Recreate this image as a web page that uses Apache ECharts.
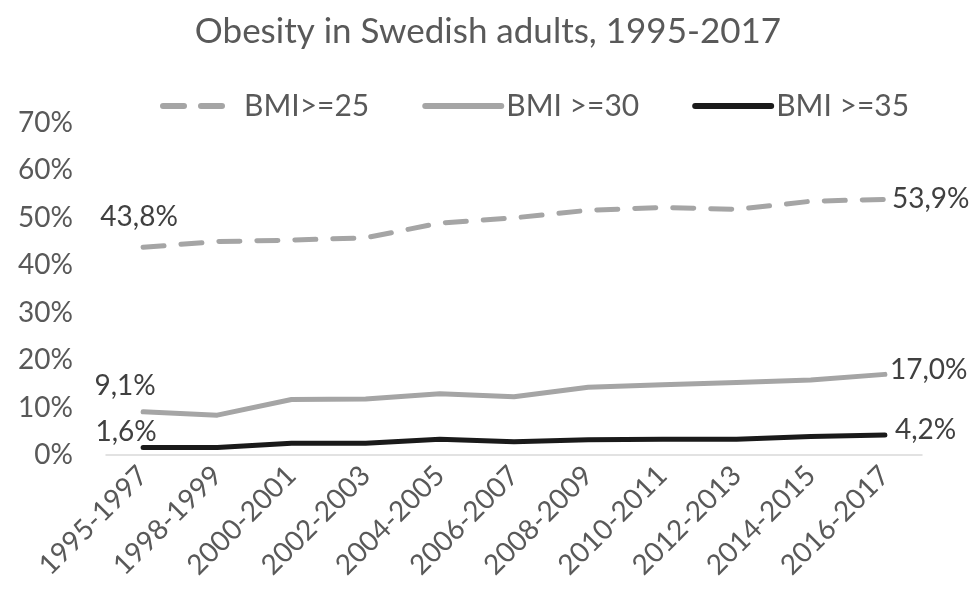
<!DOCTYPE html>
<html><head><meta charset="utf-8">
<script src="https://cdn.jsdelivr.net/npm/echarts@6/dist/echarts.min.js"></script>
<style>html,body{margin:0;padding:0;background:#fff}#c{width:976px;height:610px}</style>
</head><body><div id="c"></div>
<script>
const categories = ['1995-1997','1998-1999','2000-2001','2002-2003','2004-2005','2006-2007','2008-2009','2010-2011','2012-2013','2014-2015','2016-2017'];
const bmi25 = [43.8, 45.0, 45.3, 45.8, 48.9, 50.0, 51.6, 52.2, 51.8, 53.5, 53.9];
const bmi30 = [9.1, 8.4, 11.7, 11.8, 12.9, 12.3, 14.3, 14.8, 15.3, 15.8, 17.0];
const bmi35 = [1.6, 1.6, 2.5, 2.5, 3.3, 2.8, 3.2, 3.3, 3.3, 3.9, 4.2];
const yTicks = [0, 10, 20, 30, 40, 50, 60, 70];

const FONT = 'Lato';
const fmt = v => v.toFixed(1).replace('.', ',') + '%';
function mk(name, data, color, type, firstOff, lastOff) {
  const n = data.length;
  return {
    name, type: 'line', data: data.map((v, i) => {
      const d = { value: v };
      if (i === 0) d.label = { show: true, position: 'top', offset: firstOff };
      if (i === n - 1) d.label = { show: true, position: 'right', offset: lastOff };
      return d;
    }),
    symbol: 'circle', symbolSize: 0, showSymbol: true, smooth: false,
    lineStyle: { color, width: 5, type, cap: 'round', join: 'round' },
    itemStyle: { color },
    label: { show: false, fontFamily: FONT, fontSize: 28, color: '#404040', distance: 4,
      formatter: p => fmt(p.value) },
    emphasis: { disabled: true }
  };
}
const chart = echarts.init(document.getElementById('c'));
chart.setOption({
  animation: false,
  title: { text: 'Obesity in Swedish adults, 1995-2017', left: 'center', top: 9,
    textStyle: { fontFamily: FONT, fontSize: 35, fontWeight: 'normal', color: '#595959' } },
  legend: { top: 86, left: 155, itemWidth: 76, itemHeight: 14, itemGap: 53,
    itemStyle: { opacity: 0 }, lineStyle: { width: 6 },
    textStyle: { fontFamily: FONT, fontSize: 30, color: '#595959' },
    data: ['BMI>=25', 'BMI >=30', 'BMI >=35'] },
  grid: { left: 106, right: 54, top: 123, bottom: 155 },
  xAxis: { type: 'category', data: categories, boundaryGap: true,
    axisLine: { lineStyle: { color: '#d9d9d9', width: 1.5 } }, axisTick: { show: false },
    axisLabel: { rotate: 45, fontFamily: FONT, fontSize: 28, color: '#595959', margin: 16, interval: 0 } },
  yAxis: { type: 'value', min: yTicks[0], max: yTicks[yTicks.length - 1], interval: 10,
    splitLine: { show: false }, axisLine: { show: false }, axisTick: { show: false },
    axisLabel: { fontFamily: FONT, fontSize: 28, color: '#595959', margin: 33, formatter: v => v + '%' } },
  series: [
    mk('BMI>=25', bmi25, '#a5a5a5', [21, 17], [-4, -12], [3, 0]),
    mk('BMI >=30', bmi30, '#a5a5a5', 'solid', [-18, -8], [1, -4]),
    mk('BMI >=35', bmi35, '#1a1a1a', 'solid', [-17, 3], [6, -5])
  ]
});
</script></body></html>
